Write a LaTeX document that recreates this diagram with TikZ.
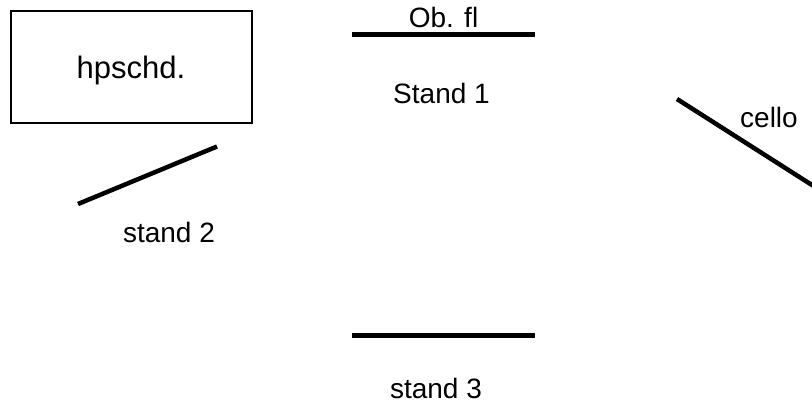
\documentclass[tikz,border=0pt]{standalone}
\usepackage{fontspec}
\setmainfont{Liberation Sans}
\tikzset{
  lbl/.style={anchor=base, inner sep=0pt, font=\fontsize{28}{34}\selectfont},
  standline/.style={line width=5pt, line cap=butt},
  boxframe/.style={draw, line width=1.8pt}
}
\begin{document}
\begin{tikzpicture}[x=1pt, y=-1pt]
\useasboundingbox (0,0) rectangle (812,408);
\clip (0,0) rectangle (812,408);
\fill[white] (0,0) rectangle (812,408);
% harpsichord box
\draw[boxframe] (11,11) rectangle (252,123);
\node[lbl, font=\fontsize{31}{36}\selectfont] (hp) at (131,78) {hpschd.};
% stand 1 (top)
\draw[standline] (352,34.5) -- (535,34.5);
\node[lbl] (obfl) at (443.5,27) {Ob. fl};
\node[lbl] (s1) at (441.5,103) {Stand 1};
% stand 2
\draw[standline, line width=4.5pt] (78,204) -- (217,146.5);
\node[lbl] (s2) at (169,242) {stand 2};
% stand 3
\draw[standline] (352,335.5) -- (535,335.5);
\node[lbl] (s3) at (436,398) {stand 3};
% cello
\draw[standline, line width=4.5pt] (677,99) -- (830,196.5);
\node[lbl] (cello) at (769,127) {cello};
\end{tikzpicture}
\end{document}
